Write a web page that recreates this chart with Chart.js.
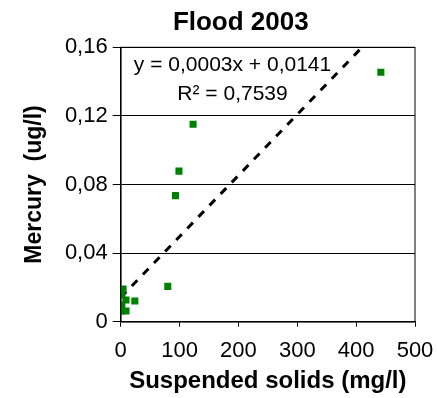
<!DOCTYPE html>
<html>
<head>
<meta charset="utf-8">
<script src="https://cdn.jsdelivr.net/npm/chart.js@4"></script>
<style>
  html, body { margin: 0; padding: 0; background: #fff; }
  #wrap { width: 437px; height: 398px; position: relative; }
</style>
</head>
<body>
<div id="wrap"><canvas id="chart"></canvas></div>
<script>
// Hg vs. suspended solids, flood 2003
const solids = [442, 123, 99, 93, 80, 24, 4, 2, 9, 2, 0.5, 9];
const mercury = [0.1454, 0.1151, 0.0878, 0.0735, 0.0206, 0.0121, 0.0191, 0.0156, 0.0127, 0.0098, 0.0062, 0.0062];

// linear trend as drawn by the spreadsheet (start at x=0, leaves the plot at the top)
const trendX = [0, 410];
const trendY = [0.0141, 0.16];

const xTicks = [0, 100, 200, 300, 400, 500];
const yTicks = [0, 0.04, 0.08, 0.12, 0.16];

const chartTitle = 'Flood 2003';
const equationLines = ['y = 0,0003x + 0,0141', 'R\u00b2 = 0,7539'];
// anchor of the equation box in data units
const equationAt = [190, 0.1497, 0.1328];

const FONT = '"Liberation Sans", Arial, sans-serif';
const GREEN = '#008000';

function comma(v) {
  return v === 0 ? '0' : v.toFixed(2).replace('.', ',');
}

// title (sits off-centre like the original), box around the plot area, trend equation
const frameAndLabel = {
  id: 'frameAndLabel',
  afterDatasetsDraw(chart) {
    const { ctx, chartArea: a, scales } = chart;
    ctx.save();
    ctx.strokeStyle = '#000';
    ctx.lineWidth = 1;
    ctx.strokeRect(a.left, a.top, a.right - a.left, a.bottom - a.top);

    ctx.fillStyle = '#000';
    ctx.textAlign = 'center';
    ctx.textBaseline = 'alphabetic';
    ctx.font = 'bold 26px ' + FONT;
    ctx.fillText(chartTitle, chart.width * 0.551, 30);

    ctx.font = '21px ' + FONT;
    ctx.textBaseline = 'middle';
    const cx = scales.x.getPixelForValue(equationAt[0]);
    ctx.fillText(equationLines[0], cx, scales.y.getPixelForValue(equationAt[1]));
    ctx.fillText(equationLines[1], cx, scales.y.getPixelForValue(equationAt[2]));
    ctx.restore();
  },
};

new Chart(document.getElementById('chart'), {
  type: 'scatter',
  data: {
    datasets: [
      {
        data: solids.map((x, i) => ({ x, y: mercury[i] })),
        backgroundColor: GREEN,
        borderColor: GREEN,
        borderWidth: 0,
        pointStyle: 'rect',
        pointRadius: 5,
        pointHoverRadius: 5,
        order: 1,
      },
      {
        type: 'line',
        data: trendX.map((x, i) => ({ x, y: trendY[i] })),
        borderColor: '#000',
        borderWidth: 3,
        borderDash: [8, 8],
        pointRadius: 0,
        fill: false,
        order: 2,
      },
    ],
  },
  options: {
    responsive: true,
    maintainAspectRatio: false,
    animation: false,
    layout: { padding: { left: 0, right: 22, top: 47.3, bottom: 0 } },
    plugins: {
      legend: { display: false },
      tooltip: { enabled: false },
      title: { display: false },
    },
    scales: {
      x: {
        type: 'linear',
        min: 0,
        max: 500,
        afterBuildTicks: (s) => { s.ticks = xTicks.map((v) => ({ value: v })); },
        afterFit: (s) => { s.height = 76.3; s.paddingLeft = 0; s.paddingRight = 0; },
        grid: { drawOnChartArea: false, drawTicks: true, tickLength: 5, color: '#000', tickColor: '#000' },
        border: { color: '#000', width: 1.5 },
        ticks: { color: '#000', padding: 11, font: { family: FONT, size: 22 }, maxRotation: 0 },
        title: {
          display: true,
          text: 'Suspended solids (mg/l)',
          color: '#000',
          font: { family: FONT, size: 24, weight: 'bold' },
          padding: { top: 0, bottom: 2 },
        },
      },
      y: {
        type: 'linear',
        min: 0,
        max: 0.16,
        afterBuildTicks: (s) => { s.ticks = yTicks.map((v) => ({ value: v })); },
        afterFit: (s) => { s.width = 120.7; s.paddingTop = 0; s.paddingBottom = 0; },
        grid: { color: '#000', lineWidth: 1, tickLength: 8, tickColor: '#000' },
        border: { color: '#000', width: 1.5 },
        ticks: { color: '#000', padding: 5, font: { family: FONT, size: 22 }, callback: (v) => comma(v) },
        title: {
          display: true,
          text: 'Mercury  (ug/l)',
          color: '#000',
          font: { family: FONT, size: 23, weight: 'bold' },
          padding: { top: 21, bottom: 0 },
        },
      },
    },
  },
  plugins: [frameAndLabel],
});
</script>
</body>
</html>
